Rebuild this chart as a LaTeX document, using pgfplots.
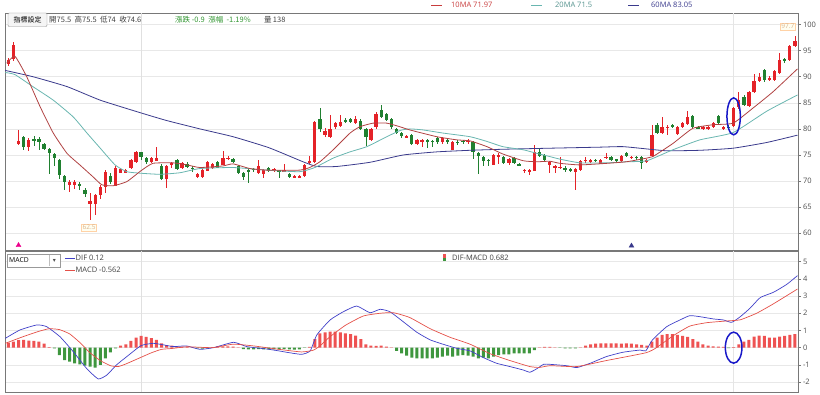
\documentclass[border=0pt]{standalone}
\usepackage{pgfplots}
\pgfplotsset{compat=1.18}
\usepackage{pgfplotstable}
\usepackage{fontspec}
\setmainfont{Open Sans}
\newfontfamily\cjk{Noto Sans CJK TC}
\newfontfamily\sym{DejaVu Sans}
\definecolor{cup}{RGB}{228,34,40}
\definecolor{cdn}{RGB}{32,128,48}
\definecolor{ma10}{RGB}{176,66,66}
\definecolor{ma10t}{RGB}{200,60,60}
\definecolor{ma20}{RGB}{105,182,176}
\definecolor{ma60}{RGB}{58,58,140}
\definecolor{difc}{RGB}{64,64,200}
\definecolor{macdc}{RGB}{228,80,72}
\definecolor{hup}{RGB}{238,82,82}
\definecolor{hdn}{RGB}{62,150,62}
\definecolor{gridc}{RGB}{232,232,232}
\definecolor{framec}{RGB}{120,120,120}
\definecolor{ellc}{RGB}{24,24,200}
\definecolor{txtg}{RGB}{50,150,50}

\pgfplotstableread{
i o h l c
0 92.4 93.6 92.0 93.2
1 93.4 96.6 93.0 96.1
2 77.2 79.8 77.0 77.7
3 78.4 78.6 76.0 76.5
4 76.6 78.2 75.8 77.9
5 78.0 78.6 76.8 77.8
6 78.0 78.4 76.0 77.5
7 77.1 77.3 76.0 76.1
8 76.1 76.4 71.4 75.4
9 75.1 75.4 72.8 74.5
10 74.0 74.3 70.4 71.2
11 71.0 71.2 68.3 69.9
12 69.3 70.2 68.0 69.9
13 69.3 70.3 68.4 69.9
14 69.4 69.8 68.3 69.1
15 68.3 68.6 67.0 67.5
16 65.7 67.7 62.5 66.1
17 65.7 67.5 63.5 67.3
18 67.3 69.2 66.6 68.9
19 68.9 72.2 67.8 71.7
20 71.0 71.5 69.5 69.9
21 69.1 72.8 69.0 72.5
22 71.6 72.5 71.5 72.3
23 71.6 72.3 71.5 72.1
24 72.5 74.2 72.3 74.0
25 73.7 75.7 73.5 75.5
26 75.5 75.5 74.0 74.6
27 74.4 74.6 73.2 73.7
28 73.7 74.6 73.5 74.4
29 73.9 76.5 73.8 74.5
30 72.8 73.2 70.2 70.4
31 70.4 73.1 68.6 72.9
32 73.3 73.6 72.6 73.4
33 74.1 74.3 72.2 72.3
34 72.6 73.7 72.4 73.5
35 73.3 73.6 72.5 72.7
36 72.5 72.8 71.8 72.4
37 70.8 71.6 70.5 71.4
38 70.7 72.3 70.5 72.1
39 72.0 73.9 71.9 73.7
40 72.6 73.5 72.4 73.3
41 73.6 73.8 72.5 72.6
42 73.1 75.8 73.0 74.4
43 74.2 74.8 74.0 74.5
44 74.2 74.4 73.5 73.7
45 72.8 73.0 71.4 71.5
46 71.5 71.7 70.3 70.7
47 72.0 72.3 69.6 71.9
48 72.4 72.6 71.8 72.1
49 71.5 74.0 71.3 72.8
50 71.3 72.4 70.5 72.2
51 72.5 72.7 71.7 71.9
52 72.2 72.5 71.8 72.3
53 72.0 72.2 70.5 71.9
54 71.8 73.3 71.7 72.1
55 71.4 71.6 70.6 70.8
56 70.6 71.2 70.5 71.0
57 70.6 71.2 70.5 71.0
58 70.9 73.3 70.8 73.1
59 73.4 74.8 73.3 73.9
60 73.7 81.5 73.5 81.3
61 81.8 84.0 79.5 79.9
62 78.8 80.2 78.5 79.6
63 78.4 82.7 78.3 79.9
64 80.3 81.3 80.0 81.1
65 80.5 82.7 80.3 81.4
66 81.7 82.0 81.2 81.5
67 81.8 82.0 81.2 81.4
68 81.1 82.5 81.0 81.8
69 81.6 81.8 79.7 79.9
70 79.9 80.1 76.7 78.4
71 77.9 80.2 77.7 79.9
72 80.3 83.2 80.0 82.9
73 83.6 84.6 82.0 82.3
74 82.9 83.1 81.5 81.7
75 81.8 82.0 80.0 80.3
76 79.9 80.1 79.0 79.2
77 79.3 79.5 78.3 78.6
78 78.4 78.8 78.2 78.6
79 78.8 79.0 77.0 77.2
80 77.2 78.1 77.0 77.9
81 77.5 78.1 76.5 77.9
82 77.8 78.0 76.3 77.7
83 77.7 77.9 76.6 77.6
84 78.2 78.4 77.2 77.4
85 77.4 78.5 77.2 78.3
86 77.8 78.0 77.2 77.7
87 76.0 77.6 75.9 77.4
88 77.5 77.8 77.0 77.4
89 77.7 77.9 77.2 77.6
90 77.6 78.0 77.1 77.7
91 77.4 77.6 74.2 75.6
92 75.3 75.6 71.4 74.8
93 74.7 74.9 72.9 73.9
94 74.0 74.2 72.9 73.9
95 73.1 75.2 73.0 75.0
96 74.8 75.3 73.2 75.0
97 74.7 74.9 73.3 73.5
98 73.4 74.4 73.0 74.2
99 74.4 74.6 73.3 73.5
100 73.2 73.5 72.8 73.1
101 72.0 72.4 71.6 72.1
102 71.8 72.4 71.2 72.2
103 72.0 76.9 71.9 75.5
104 75.6 76.3 74.6 74.8
105 75.0 75.2 73.8 74.0
106 73.1 73.9 71.6 73.7
107 72.6 73.1 71.6 72.9
108 72.6 74.7 72.3 72.7
109 72.6 72.8 71.8 72.1
110 72.4 72.6 71.8 72.0
111 71.8 72.5 68.3 72.3
112 72.1 74.1 71.9 73.9
113 73.9 74.7 73.5 74.0
114 73.8 74.2 73.5 73.9
115 74.1 74.3 73.6 73.8
116 73.3 74.2 73.2 74.0
117 74.4 75.3 74.2 74.7
118 74.6 74.8 73.8 74.1
119 74.1 74.3 73.6 74.0
120 73.9 75.0 73.7 74.8
121 75.3 75.5 74.6 74.8
122 74.5 74.8 74.2 74.6
123 74.6 74.8 74.0 74.5
124 74.7 74.9 72.3 73.4
125 73.6 74.3 73.4 74.1
126 74.8 80.8 74.6 78.8
127 80.8 81.1 79.0 79.3
128 79.3 82.2 79.1 80.3
129 80.2 80.8 78.8 80.4
130 80.7 80.9 80.1 80.3
131 79.0 80.5 78.8 80.3
132 80.3 81.4 80.1 81.2
133 80.9 83.5 80.7 82.2
134 82.5 82.7 80.1 80.3
135 80.3 80.6 79.9 80.2
136 80.2 80.5 79.7 80.3
137 80.2 80.6 79.8 80.3
138 80.4 81.3 80.2 81.1
139 82.5 82.7 81.0 81.2
140 80.1 80.6 79.8 80.4
141 80.4 80.7 80.0 80.3
142 80.6 84.2 80.4 84.0
143 84.1 87.1 83.9 85.5
144 86.2 86.4 84.3 84.6
145 84.4 87.3 84.2 87.1
146 87.1 90.5 86.9 89.2
147 89.2 90.7 89.0 90.0
148 91.2 91.4 89.0 89.4
149 89.6 90.2 89.2 89.7
150 89.4 91.2 89.2 91.0
151 90.7 94.5 90.5 93.2
152 93.4 93.6 92.7 93.1
153 93.2 96.0 93.0 95.8
154 95.8 97.7 95.6 96.9
}\ohlc

\pgfplotstableread{
i v
0 0.29
1 0.35
2 0.43
3 0.45
4 0.41
5 0.39
6 0.35
7 0.23
8 0.03
9 -0.05
10 -0.43
11 -0.72
12 -0.81
13 -0.91
14 -0.97
15 -1.05
16 -1.10
17 -1.16
18 -1.00
19 -0.62
20 -0.27
21 -0.05
22 0.12
23 0.19
24 0.39
25 0.58
26 0.68
27 0.62
28 0.55
29 0.45
30 0.25
31 0.15
32 0.12
33 0.08
34 0.06
35 0.05
36 0.02
37 -0.05
38 -0.06
39 -0.05
40 0.03
41 0.08
42 0.08
43 0.07
44 0.06
45 0.02
46 -0.08
47 -0.10
48 -0.10
49 -0.09
50 -0.10
51 -0.10
52 -0.10
53 -0.10
54 -0.09
55 -0.10
56 -0.12
57 -0.10
58 -0.02
59 0.05
60 0.50
61 0.83
62 0.89
63 0.93
64 0.93
65 0.89
66 0.83
67 0.78
68 0.70
69 0.50
70 0.19
71 0.12
72 0.10
73 0.12
74 0.06
75 0.02
76 -0.19
77 -0.33
78 -0.47
79 -0.58
80 -0.62
81 -0.62
82 -0.62
83 -0.62
84 -0.58
85 -0.52
86 -0.47
87 -0.52
88 -0.47
89 -0.43
90 -0.47
91 -0.52
92 -0.62
93 -0.58
94 -0.62
95 -0.52
96 -0.43
97 -0.39
98 -0.39
99 -0.33
100 -0.33
101 -0.33
102 -0.33
103 -0.14
104 0.02
105 0.04
106 0.04
107 0.01
108 -0.01
109 -0.05
110 -0.05
111 -0.05
112 0.02
113 0.12
114 0.19
115 0.23
116 0.25
117 0.25
118 0.25
119 0.25
120 0.23
121 0.25
122 0.23
123 0.19
124 0.16
125 0.12
126 0.35
127 0.58
128 0.74
129 0.78
130 0.78
131 0.74
132 0.68
133 0.62
134 0.50
135 0.35
136 0.19
137 0.12
138 0.08
139 0.06
140 0.04
141 -0.03
142 0.03
143 0.19
144 0.35
145 0.45
146 0.64
147 0.70
148 0.68
149 0.58
150 0.58
151 0.64
152 0.68
153 0.74
154 0.78
}\hist

\pgfplotsset{
  panel/.style={
    scale only axis, anchor=south west, width=793pt,
    xmin=-0.65, xmax=154.6, xtick=\empty,
    axis line style={framec, line width=0.8pt},
    ytick pos=right, yticklabel pos=right,
    ymajorgrids, grid style={gridc, line width=0.5pt},
    tick style={framec, line width=0.5pt}, tick align=outside, major tick length=3pt,
    yticklabel style={font=\fontsize{7.5}{8}\selectfont, text=black!70, xshift=-1.5pt},
    /pgf/number format/assume math mode=true,
  },
  wick/.style={draw=none, error bars/.cd, y dir=both, y explicit, error mark=none,
    error bar style={draw=#1, line width=0.7pt}, /pgfplots/.cd},
  body/.style={draw=none, error bars/.cd, y dir=both, y explicit, error mark=none,
    error bar style={draw=#1, line width=3.3pt}, /pgfplots/.cd},
  upday/.style={restrict expr to domain={\thisrow{c}-\thisrow{o}}{0:100}},
  dnday/.style={restrict expr to domain={\thisrow{c}-\thisrow{o}}{-100:-0.0001}},
}

\begin{document}
\begin{tikzpicture}
\path[use as bounding box] (0pt,0pt) rectangle (820pt,394pt);

% ---------- price panel ----------
\begin{axis}[panel, at={(5pt,144pt)}, height=237pt,
  ymin=56.8, ymax=102.2, ytick={60,65,...,100}]
\draw[black!12, line width=0.7pt] (axis cs:26,56.8) -- (axis cs:26,102.2);
\draw[black!10, line width=0.6pt] (axis cs:142,56.8) -- (axis cs:142,102.2);

% wicks
\addplot[upday, wick=cup]
  table[x=i, y expr={(\thisrow{h}+\thisrow{l})/2}, y error expr={(\thisrow{h}-\thisrow{l})/2}] {\ohlc};
\addplot[dnday, wick=cdn]
  table[x=i, y expr={(\thisrow{h}+\thisrow{l})/2}, y error expr={(\thisrow{h}-\thisrow{l})/2}] {\ohlc};
% bodies
\addplot[upday, body=cup]
  table[x=i, y expr={(\thisrow{o}+\thisrow{c})/2}, y error expr={max(abs(\thisrow{c}-\thisrow{o})/2,0.1)}] {\ohlc};
\addplot[dnday, body=cdn]
  table[x=i, y expr={(\thisrow{o}+\thisrow{c})/2}, y error expr={max(abs(\thisrow{c}-\thisrow{o})/2,0.1)}] {\ohlc};

% moving averages
\addplot[ma60, line width=0.8pt, smooth, tension=0.3, mark=none] coordinates {
(-0.6,91.2) (4.8,90.0) (11.5,88.1) (18,85.5) (26,83.05) (31,81.6) (37.5,80.0) (44,78.5)
(51,76.4) (57.7,73.7) (60.4,72.8) (64.3,72.8) (70.8,73.6) (77.3,75.0) (83.9,75.6) (90.4,75.9)
(96.9,76.1) (106,76.3) (115.8,76.5) (120.3,76.6) (125.6,76.1) (129,75.8) (135.4,75.9)
(141.9,76.3) (148.5,77.4) (154.5,78.8)};
\addplot[ma20, line width=0.8pt, smooth, tension=0.3, mark=none] coordinates {
(-0.6,90.8) (1.3,90.4) (4.8,88.1) (8.8,85.5) (12.7,82.3) (15.4,79.2) (18,76.3) (20.9,73.1)
(23.2,71.8) (26,71.5) (29.7,71.3) (33.6,71.6) (37.5,72.4) (44,72.6) (50.6,72.1) (57,71.8)
(60,72.6) (63.6,74.4) (66.9,75.6) (70.2,76.6) (74.1,78.5) (76.7,79.7) (78.6,80.0) (81.2,79.8)
(85.1,79.2) (90.4,78.5) (93.7,77.6) (96.8,76.6) (100.8,76.0) (103.5,75.3) (106,74.7) (108,74.2)
(111.9,73.5) (117.2,73.5) (121,73.7) (125,73.9) (130.1,76.0) (135.4,77.9) (141.9,79.3)
(148.5,83.4) (154.5,86.5)};
\addplot[ma10, line width=0.8pt, smooth, tension=0.3, mark=none] coordinates {
(-0.3,92.6) (1.3,93.9) (3.6,90.0) (6.2,84.3) (8.8,79.2) (11.5,75.3) (14,73.1) (16.6,70.8)
(18.3,69.3) (20.5,69.1) (23.2,69.9) (26,72.0) (28.3,73.4) (32.2,73.5) (35,73.1) (37.5,72.6)
(42,72.9) (44,73.3) (47.3,72.4) (50.6,72.1) (57,72.1) (59,72.6) (61,73.7) (63.6,76.0)
(66.9,79.2) (68.8,80.4) (71.4,81.1) (74.1,81.1) (76.7,80.4) (78.6,79.8) (83.9,78.5) (87.8,77.9)
(90.4,77.7) (93.7,76.6) (96.8,75.2) (100.8,73.9) (103.5,73.7) (106,73.8) (108,73.4) (111.9,73.1)
(117.2,73.4) (121,73.7) (125,74.4) (126.2,74.7) (130.1,77.2) (134,80.1) (138,80.8) (141.9,81.1)
(145.8,84.0) (149.7,87.1) (154.5,91.5)};

% signal triangles
\addplot[only marks, mark=triangle*, mark size=2.8pt, color=magenta] coordinates {(2,57.7)};
\addplot[only marks, mark=triangle*, mark size=2.8pt, color=ma60] coordinates {(122,57.6)};

% high / low labels
\node[fill=yellow!6, draw=orange!35, text=brown!60, inner sep=1pt,
  font=\fontsize{6.5}{7}\selectfont] at (axis cs:15.8,61.1) {62.5};
\node[fill=yellow!6, draw=orange!35, text=brown!60, inner sep=1pt,
  font=\fontsize{6.5}{7}\selectfont] at (axis cs:152.6,99.6) {97.7};

% highlight ellipse
\draw[ellc, line width=1.5pt] (axis cs:142,82.4) ellipse [x radius=6.7pt, y radius=18.5pt];
\end{axis}

% ---------- MACD panel ----------
\begin{axis}[panel, at={(5pt,2pt)}, height=141pt,
  ymin=-2.58, ymax=5.62, ytick={-2,-1,...,5}]
\draw[black!12, line width=0.7pt] (axis cs:26,-2.58) -- (axis cs:26,5.62);
\draw[black!10, line width=0.6pt] (axis cs:142,-2.58) -- (axis cs:142,5.62);
\addplot[ybar, bar width=3pt, fill=hup, draw=none, restrict y to domain=0:10]
  table[x=i, y=v] {\hist};
\addplot[ybar, bar width=3pt, fill=hdn, draw=none, restrict y to domain=-10:0]
  table[x=i, y=v] {\hist};
\addplot[difc, line width=0.7pt, smooth, tension=0.3, mark=none] coordinates {
(-0.6,0.54) (2.3,1.03) (5.6,1.32) (7.5,1.22) (10.1,0.64) (12.7,-0.23) (15.3,-1.2) (17.6,-1.82)
(19.3,-1.59) (21.2,-1.0) (23.2,-0.52) (26,0.12) (28.4,0.25) (30.4,0.16) (32.3,0.06) (34.9,0.1)
(37.5,-0.1) (40.2,0) (44.1,0.31) (46.7,0.06) (50.6,-0.08) (53.2,-0.2) (54.5,-0.27) (57.4,-0.39)
(59.1,-0.19) (60.4,0.74) (63,1.61) (65.6,2.09) (68.2,2.42) (70.8,2.03) (72.8,2.23) (74.7,2.09)
(77.3,1.51) (80,0.89) (82.6,0.45) (85.2,0.19) (87.8,-0.04) (90.4,-0.19) (93,-0.58) (95.6,-0.91)
(98.2,-1.1) (100.8,-1.3) (102.1,-1.43) (103.4,-1.24) (104.8,-0.97) (106,-0.97) (109.3,-1.05)
(111.3,-1.16) (113.9,-0.91) (117.1,-0.52) (120.3,-0.27) (123.7,-0.14) (124.8,-0.19) (126.1,0.45)
(128.9,1.22) (131.5,1.61) (133.4,1.86) (135.4,1.8) (138,1.67) (140,1.61) (141.6,1.47) (143.3,1.8)
(145.2,2.29) (147.2,2.91) (149.8,3.22) (152.4,3.68) (154.5,4.19)};
\addplot[macdc, line width=0.7pt, smooth, tension=0.3, mark=none] coordinates {
(-0.6,0.25) (3,0.65) (6,0.95) (8,1.1) (10,1.05) (12,0.8) (14,0.3) (16,-0.3) (18,-0.75)
(20,-1.05) (21.5,-1.1) (23,-0.95) (26,-0.56) (28,-0.3) (30,-0.1) (32,-0.05) (35,0.05) (40,0.0)
(44,0.2) (48,0.1) (53,-0.1) (57.4,-0.25) (59.7,-0.15) (61,0.1) (63,0.64) (66,1.3) (69.5,1.84)
(72.8,2.0) (75.4,2.03) (78.6,1.75) (82.6,1.1) (86.5,0.6) (90.4,0.2) (94.3,-0.35) (98.2,-0.75)
(102.1,-1.1) (104,-1.15) (106.1,-1.05) (111.3,-1.1) (117.1,-0.75) (124.8,-0.3) (126.9,0.0)
(130.2,0.7) (133.4,1.25) (136.7,1.45) (140.6,1.55) (143.3,1.62) (146.5,2.0) (149.8,2.55)
(154.5,3.41)};
\draw[ellc, line width=1.5pt] (axis cs:142,0.0) ellipse [x radius=8.3pt, y radius=15.5pt];
\end{axis}

% ---------- header texts ----------
\begin{scope}[font=\fontsize{7.5}{8}\selectfont]
\draw[ma10t, line width=0.8pt] (431pt,389pt) -- (442pt,389pt);
\node[anchor=west, text=ma10t, inner sep=0] at (451pt,389pt) {10MA 71.97};
\draw[ma20, line width=0.8pt] (531pt,389pt) -- (542pt,389pt);
\node[anchor=west, text=ma20!80!black, inner sep=0] at (555pt,389pt) {20MA 71.5};
\draw[ma60, line width=0.8pt] (628pt,389pt) -- (639pt,389pt);
\node[anchor=west, text=ma60, inner sep=0] at (651pt,389pt) {60MA 83.05};

\draw[black!45, fill=black!4, rounded corners=1pt] (8pt,367.5pt) rectangle (47pt,381pt);
\node[font=\cjk\fontsize{7}{7}\selectfont, inner sep=0] at (27.5pt,374.3pt) {指標設定};
\node[anchor=west, font=\cjk\fontsize{7.5}{8}\selectfont, text=black!75, inner sep=0] at (49pt,374.3pt)
  {開75.5\ \ 高75.5\ \ 低74\ \ 收74.6};
\node[anchor=west, font=\cjk\fontsize{7.5}{8}\selectfont, text=txtg, inner sep=0] at (175pt,374.3pt)
  {漲跌 -0.9\ \ 漲幅\ \ -1.19\%};
\node[anchor=west, font=\cjk\fontsize{7.5}{8}\selectfont, text=black!75, inner sep=0] at (264pt,374.3pt)
  {量\,138};

% MACD legend
\draw[black!40, fill=white] (7pt,127pt) rectangle (60pt,140pt);
\draw[black!25] (49pt,128pt) -- (49pt,139pt);
\node[anchor=west, inner sep=0, font=\fontsize{6.8}{7}\selectfont] at (9pt,133.5pt) {MACD};
\node[inner sep=0, font=\sym\fontsize{6}{6}\selectfont, text=black!70] at (54.5pt,133.5pt) {▾};
\draw[difc, line width=0.9pt] (65pt,136pt) -- (75pt,136pt);
\node[anchor=west, inner sep=0, text=black!75] at (75.5pt,136pt) {DIF 0.12};
\draw[macdc, line width=0.9pt] (65pt,124pt) -- (75pt,124pt);
\node[anchor=west, inner sep=0, text=black!75] at (75.5pt,124pt) {MACD -0.562};
\fill[hup] (442.5pt,136.3pt) rectangle (445.5pt,139.5pt);
\fill[hdn] (442.5pt,132.5pt) rectangle (445.5pt,135.7pt);
\node[anchor=west, inner sep=0, text=black!75] at (452pt,136pt) {DIF-MACD 0.682};
\end{scope}
\end{tikzpicture}
\end{document}
